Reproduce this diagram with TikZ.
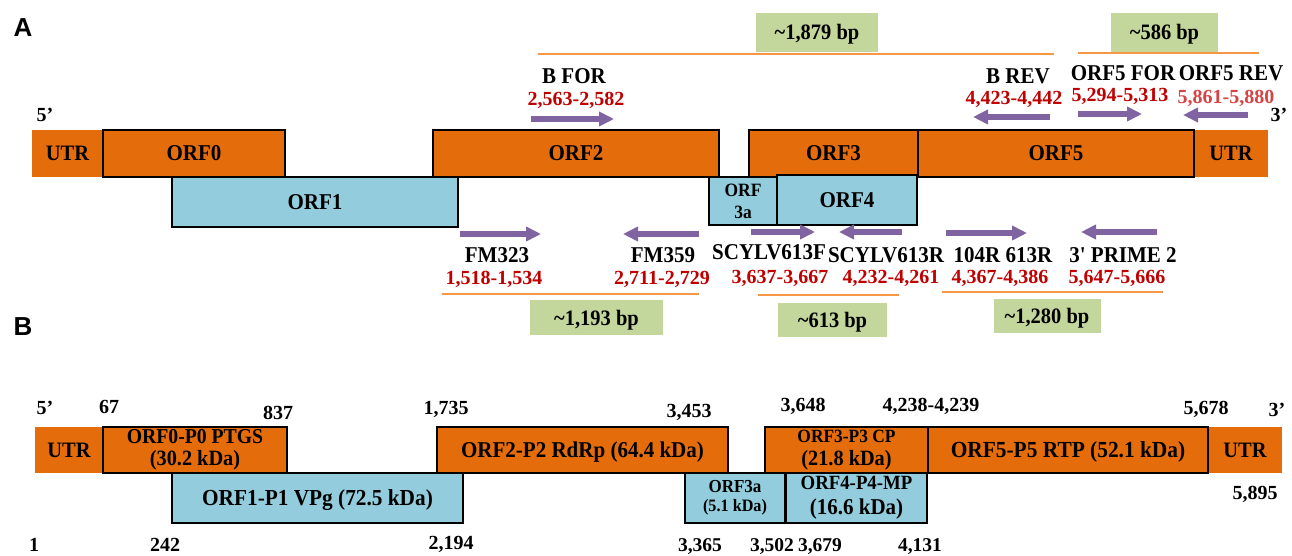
\documentclass[tikz,border=0pt]{standalone}
\usepackage{fontspec}
\setmainfont{Liberation Serif}
\newfontfamily\headfont{Liberation Sans}
\newfontfamily\condserif{Liberation Serif}[FakeStretch=0.93]
\usetikzlibrary{arrows.meta}
\definecolor{orfor}{HTML}{E46C0A}
\definecolor{orfbl}{HTML}{93CDDD}
\definecolor{ampgr}{HTML}{C3D69B}
\definecolor{primp}{HTML}{8064A2}
\definecolor{ampln}{HTML}{F79646}
\definecolor{posred}{HTML}{C00000}
\definecolor{posredb}{HTML}{D64545}
\tikzset{
  sz/.style={font=\fontsize{#1}{#1}\selectfont\bfseries},
  csz/.style={font=\condserif\fontsize{#1}{#1}\selectfont\bfseries},
  oneline/.style={text height=13.3pt, text depth=0pt},
  conel/.style={text height=15pt, text depth=0pt},
  utrbox/.style={fill=orfor, inner sep=0pt, outer sep=0pt, conel, csz=22},
  obox/.style={fill=orfor, draw=black, line width=2.8pt, inner sep=0pt, outer sep=0pt, align=center, csz=22.6},
  bbox/.style={fill=orfbl, draw=black, line width=2.8pt, inner sep=0pt, outer sep=0pt, align=center, csz=22.6},
  lbl/.style={inner sep=0pt, conel, csz=22.6},
  num/.style={inner sep=0pt, oneline, sz=20, text=posred},
  bnum/.style={inner sep=0pt, oneline, sz=20},
  primer/.style={draw=primp, line width=5.5pt, -{Triangle[length=15pt,width=14pt]}},
  ampline/.style={draw=ampln, line width=1.8pt},
  ampbox/.style={fill=ampgr, inner sep=0pt, conel, csz=22},
  panel/.style={inner sep=0pt, text height=18.5pt, text depth=0pt, font=\fontsize{26}{26}\selectfont\headfont\bfseries}
}
\begin{document}
\begin{tikzpicture}[x=1pt,y=-1pt]
\useasboundingbox[fill=white] (0,0) rectangle (1292,556);

% ---------------- Panel A ----------------
\node[panel] (pA) at (23,27) {A};
\node[bnum] (a5) at (45,115) {5’};
\node[bnum] (a3) at (1279,115) {3’};

% main row
\node[utrbox, minimum width=71pt, minimum height=47pt] (autrL) at (67.5,153.5) {UTR};
\node[utrbox, minimum width=74pt, minimum height=47pt] (autrR) at (1231,153.5) {UTR};
\node[obox, conel, minimum width=182pt, minimum height=47pt] (aorf0) at (194,153.5) {ORF0};
\node[obox, conel, minimum width=286pt, minimum height=47pt] (aorf2) at (576,153.5) {ORF2};
\node[obox, conel, minimum width=169pt, minimum height=47pt] (aorf3) at (833.5,153.5) {ORF3};
\node[obox, conel, minimum width=276pt, minimum height=47pt] (aorf5) at (1056,153.5) {ORF5};
% second row
\node[bbox, conel, minimum width=286pt, minimum height=50pt] (aorf1) at (315,202) {ORF1};
\node[bbox, minimum width=68pt, minimum height=48pt, font=\condserif\fontsize{18.8}{22}\selectfont\bfseries] (aorf3a) at (743,201) {ORF\\3a};
\node[bbox, conel, minimum width=140pt, minimum height=50pt] (aorf4) at (847,200) {ORF4};

% top primers
\node[lbl] (bforn) at (574,76) {B FOR};
\node[num] (bforp) at (576,99) {2,563-2,582};
\coordinate (bfor1) at (531,119); \coordinate (bfor2) at (614,119);
\draw[primer] (bfor1) -- (bfor2);

\node[lbl] (brevn) at (1018,76) {B REV};
\node[num] (brevp) at (1014,98) {4,423-4,442};
\coordinate (brev1) at (1050,117); \coordinate (brev2) at (973,117);
\draw[primer] (brev1) -- (brev2);

\node[lbl] (o5fn) at (1123,73) {ORF5 FOR};
\node[num] (o5fp) at (1120,95) {5,294-5,313};
\coordinate (o5f1) at (1078,114); \coordinate (o5f2) at (1142,114);
\draw[primer] (o5f1) -- (o5f2);

\node[lbl] (o5rn) at (1231,73) {ORF5 REV};
\node[num, text=posredb] (o5rp) at (1226,97) {5,861-5,880};
\coordinate (o5r1) at (1248,115); \coordinate (o5r2) at (1183,115);
\draw[primer] (o5r1) -- (o5r2);

% top amplicons
\coordinate (amp1a) at (538,54); \coordinate (amp1b) at (1054,54);
\draw[ampline] (amp1a) -- (amp1b);
\node[ampbox, minimum width=122pt, minimum height=39pt] (amp1) at (817,32.5) {\textasciitilde1,879 bp};
\coordinate (amp2a) at (1078,53); \coordinate (amp2b) at (1259,53);
\draw[ampline] (amp2a) -- (amp2b);
\node[ampbox, minimum width=107pt, minimum height=39pt] (amp2) at (1164.5,32.5) {\textasciitilde586 bp};

% bottom primers
\node[lbl] (fm323n) at (497,255) {FM323};
\node[num] (fm323p) at (494,278) {1,518-1,534};
\coordinate (fm3231) at (460,234); \coordinate (fm3232) at (541,234);
\draw[primer] (fm3231) -- (fm3232);

\node[lbl] (fm359n) at (663,255) {FM359};
\node[num] (fm359p) at (662,278) {2,711-2,729};
\coordinate (fm3591) at (699,234); \coordinate (fm3592) at (623,234);
\draw[primer] (fm3591) -- (fm3592);

\node[lbl] (s613fn) at (769,252) {SCYLV613F};
\node[num] (s613fp) at (780,277) {3,637-3,667};
\coordinate (s613f1) at (751,232); \coordinate (s613f2) at (815,232);
\draw[primer] (s613f1) -- (s613f2);

\node[lbl] (s613rn) at (886,255) {SCYLV613R};
\node[num] (s613rp) at (891,277) {4,232-4,261};
\coordinate (s613r1) at (902,232); \coordinate (s613r2) at (839,232);
\draw[primer] (s613r1) -- (s613r2);

\node[lbl] (r104n) at (1003,255) {104R 613R};
\node[num] (r104p) at (1000,277) {4,367-4,386};
\coordinate (r1041) at (946,233); \coordinate (r1042) at (1027,233);
\draw[primer] (r1041) -- (r1042);

\node[lbl] (p3n) at (1123,255) {3\char"0027{} PRIME 2};
\node[num] (p3p) at (1117,277) {5,647-5,666};
\coordinate (p31) at (1157,232); \coordinate (p32) at (1081,232);
\draw[primer] (p31) -- (p32);

% bottom amplicons
\coordinate (amp3a) at (442,294); \coordinate (amp3b) at (699,294);
\draw[ampline] (amp3a) -- (amp3b);
\node[ampbox, minimum width=133pt, minimum height=35pt] (amp3) at (596.5,317.5) {\textasciitilde1,193 bp};
\coordinate (amp4a) at (758,295); \coordinate (amp4b) at (899,295);
\draw[ampline] (amp4a) -- (amp4b);
\node[ampbox, minimum width=109pt, minimum height=34pt] (amp4) at (832.5,320) {\textasciitilde613 bp};
\coordinate (amp5a) at (942,292); \coordinate (amp5b) at (1163,292);
\draw[ampline] (amp5a) -- (amp5b);
\node[ampbox, minimum width=107pt, minimum height=34pt] (amp5) at (1047,316) {\textasciitilde1,280 bp};

% ---------------- Panel B ----------------
\node[panel] (pB) at (23,326) {B};
\node[bnum] (b5) at (45,408) {5’};
\node[bnum] (b3) at (1277,410) {3’};
\node[bnum] (n67) at (109,407) {67};
\node[bnum] (n837) at (278,413) {837};
\node[bnum] (n1735) at (446,408) {1,735};
\node[bnum] (n3453) at (689,411) {3,453};
\node[bnum] (n3648) at (803,405) {3,648};
\node[bnum] (n4238) at (931,405) {4,238-4,239};
\node[bnum] (n5678) at (1206,408) {5,678};
\node[bnum] (n5895) at (1255,493) {5,895};
\node[bnum] (n1) at (34,545) {1};
\node[bnum] (n242) at (165,545) {242};
\node[bnum] (n2194) at (451,543) {2,194};
\node[bnum, sz=19.5] (n3365) at (700,545) {3,365};
\node[bnum, sz=19.5] (n3502) at (772,545) {3,502};
\node[bnum, sz=19.5] (n3679) at (820,545) {3,679};
\node[bnum, sz=19.5] (n4131) at (920,545) {4,131};

% main row
\node[utrbox, minimum width=68pt, minimum height=46pt] (butrL) at (69,450) {UTR};
\node[utrbox, minimum width=74pt, minimum height=46pt] (butrR) at (1245,450) {UTR};
\node[obox, minimum width=184pt, minimum height=46pt, font=\condserif\fontsize{21.2}{22}\selectfont\bfseries] (borf0) at (195,450) {ORF0-P0 PTGS\\{\fontsize{21.8}{22}\selectfont (30.2 kDa)}};
\node[obox, conel, minimum width=291pt, minimum height=46pt] (borf2) at (582.5,450) {ORF2-P2 RdRp (64.4 kDa)};
\node[obox, minimum width=163pt, minimum height=46pt, font=\condserif\fontsize{18.7}{23}\selectfont\bfseries] (borf3) at (846.5,450) {ORF3-P3 CP\\{\fontsize{21.8}{23}\selectfont (21.8 kDa)}};
\node[obox, conel, minimum width=280pt, minimum height=46pt, csz=23] (borf5) at (1068,450) {ORF5-P5 RTP (52.1 kDa)};
% second row
\node[bbox, conel, minimum width=291pt, minimum height=50pt, csz=22.9] (borf1) at (317.5,498) {ORF1-P1 VPg (72.5 kDa)};
\node[bbox, minimum width=100pt, minimum height=50pt, font=\condserif\fontsize{18.3}{19.5}\selectfont\bfseries] (borf3a) at (735,498) {ORF3a\\{\fontsize{17.4}{19.5}\selectfont (5.1 kDa)}};
\node[bbox, minimum width=141pt, minimum height=50pt, font=\condserif\fontsize{20.2}{25}\selectfont\bfseries] (borf4) at (856.5,498) {ORF4-P4-MP\\{\fontsize{22.6}{25}\selectfont (16.6 kDa)}};
\end{tikzpicture}
\end{document}
